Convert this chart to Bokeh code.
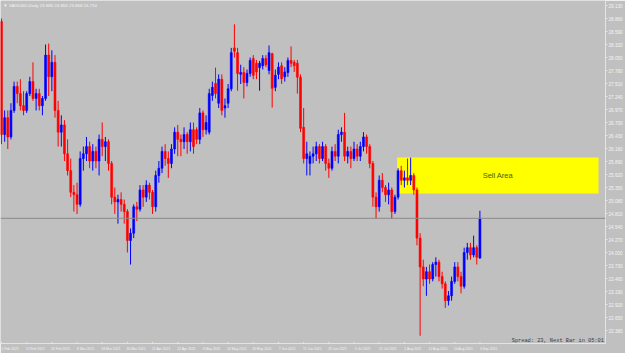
from bokeh.plotting import figure
from bokeh.models import FixedTicker, Span, Label, PrintfTickFormatter, ColumnDataSource
from bokeh.embed import file_html
from bokeh.resources import INLINE
from bokeh.core.properties import value

symbol = "XAGUSD"
timeframe = "Daily"

# bar index of every labelled date on the time axis
date_tick_bars = [0, 8, 16, 24, 32, 40, 48, 56, 64, 72, 80, 88, 96, 104, 112, 120, 128, 136, 144, 152]
date_tick_labels = ["2 Feb 2021", "12 Feb 2021", "24 Feb 2021", "8 Mar 2021", "18 Mar 2021",
                    "30 Mar 2021", "12 Apr 2021", "22 Apr 2021", "4 May 2021", "14 May 2021",
                    "26 May 2021", "7 Jun 2021", "17 Jun 2021", "29 Jun 2021", "9 Jul 2021",
                    "21 Jul 2021", "2 Aug 2021", "12 Aug 2021", "24 Aug 2021", "3 Sep 2021"]

price_ticks = [29.130, 28.860, 28.590, 28.320, 28.050, 27.780, 27.510, 27.240, 26.970, 26.700,
               26.430, 26.160, 25.890, 25.620, 25.350, 25.080, 24.810, 24.540, 24.270, 24.000,
               23.730, 23.460, 23.190, 22.920, 22.650, 22.380]

# daily OHLC, 2 Feb 2021 .. 3 Sep 2021 (153 bars)
opens = [28.80, 26.45, 26.80, 26.40, 26.95, 27.45, 27.30, 27.05, 26.95, 27.30,
         27.55, 27.20, 27.30, 27.05, 27.20, 28.10, 27.65, 27.95, 26.95, 26.50,
         26.65, 26.05, 25.70, 25.25, 25.20, 25.00, 25.95, 26.05, 26.20, 25.90,
         26.10, 25.90, 26.35, 26.20, 26.30, 25.85, 25.15, 25.05, 25.10, 25.00,
         24.85, 24.25, 24.40, 24.95, 24.90, 25.30, 25.15, 25.40, 25.25, 24.95,
         25.60, 25.75, 26.10, 25.95, 25.85, 26.15, 26.50, 26.35, 26.30, 26.45,
         26.30, 26.55, 26.55, 26.35, 26.90, 26.55, 26.50, 27.26, 27.51, 27.10,
         27.60, 27.00, 27.10, 27.40, 28.25, 28.15, 27.70, 27.74, 27.53, 27.72,
         28.03, 27.93, 27.84, 27.88, 28.03, 27.78, 28.13, 27.43, 27.70, 27.88,
         27.65, 27.74, 27.99, 27.95, 27.93, 27.64, 26.60, 25.95, 25.85, 26.00,
         26.05, 26.20, 25.95, 26.20, 25.85, 25.75, 26.10, 26.00, 26.45, 26.50,
         26.00, 26.10, 25.95, 26.15, 26.00, 26.20, 26.40, 26.20, 25.85, 25.15,
         24.95, 25.50, 25.35, 25.20, 25.30, 24.85, 25.15, 25.70, 25.50, 25.55,
         25.50, 25.60, 25.30, 24.30, 23.70, 23.45, 23.60, 23.45, 23.75, 23.80,
         23.50, 23.35, 23.00, 23.10, 23.40, 23.70, 23.50, 23.30, 24.00, 24.10,
         23.95, 24.10, 23.886]
highs = [28.86, 26.95, 26.95, 27.10, 27.55, 27.55, 27.60, 27.35, 27.35, 27.65,
         27.95, 27.40, 27.40, 27.25, 28.32, 28.34, 28.20, 28.10, 27.15, 26.85,
         26.75, 26.35, 25.95, 25.40, 25.45, 26.10, 26.20, 26.40, 26.30, 26.25,
         26.20, 26.45, 26.70, 26.40, 26.35, 25.90, 25.35, 25.20, 25.25, 25.10,
         24.90, 24.50, 25.00, 25.05, 25.40, 25.40, 25.50, 25.45, 25.30, 25.70,
         25.90, 26.20, 26.25, 26.10, 26.25, 26.60, 26.65, 26.45, 26.60, 26.50,
         26.70, 26.70, 26.60, 27.00, 26.95, 26.85, 27.40, 27.55, 27.84, 27.70,
         27.70, 27.20, 27.50, 28.25, 28.74, 28.25, 27.90, 27.85, 27.80, 28.05,
         28.10, 28.00, 27.98, 28.10, 28.10, 28.30, 28.15, 27.80, 27.95, 27.95,
         27.85, 28.05, 28.28, 28.00, 28.00, 27.70, 27.00, 26.30, 26.10, 26.20,
         26.30, 26.25, 26.30, 26.25, 25.95, 26.20, 26.25, 26.55, 26.60, 26.90,
         26.20, 26.20, 26.30, 26.25, 26.30, 26.50, 26.45, 26.25, 25.90, 25.25,
         25.60, 25.65, 25.40, 25.45, 25.35, 25.20, 25.75, 25.80, 25.70, 25.95,
         25.97, 25.65, 25.35, 24.40, 23.85, 23.70, 23.75, 23.80, 23.90, 23.85,
         23.60, 23.40, 23.20, 23.50, 23.80, 23.80, 23.60, 24.10, 24.20, 24.20,
         24.35, 24.15, 24.866]
lows = [26.25, 26.30, 26.15, 26.35, 26.90, 27.10, 26.95, 26.85, 26.90, 27.25,
        27.15, 26.95, 26.95, 26.85, 27.15, 27.25, 27.35, 26.80, 26.20, 26.20,
        25.90, 25.60, 25.15, 24.85, 24.80, 24.95, 25.70, 25.90, 25.75, 25.70,
        25.75, 25.60, 26.00, 25.90, 25.70, 25.00, 24.80, 24.60, 24.85, 24.60,
        24.00, 23.75, 24.30, 24.65, 24.85, 24.95, 25.05, 25.10, 24.80, 24.85,
        25.45, 25.65, 25.80, 25.55, 25.75, 26.05, 26.00, 26.00, 26.15, 26.05,
        26.10, 26.05, 26.25, 26.25, 26.40, 26.45, 26.45, 27.15, 27.20, 27.00,
        26.85, 26.80, 27.00, 27.35, 28.05, 27.36, 27.50, 27.20, 27.45, 27.65,
        27.60, 27.60, 27.36, 27.80, 27.85, 27.70, 27.01, 27.35, 27.60, 27.50,
        27.55, 27.65, 27.85, 27.75, 27.30, 26.50, 25.85, 25.60, 25.60, 25.85,
        25.90, 25.85, 25.90, 25.70, 25.55, 25.70, 25.90, 25.85, 26.30, 25.90,
        25.85, 25.75, 25.90, 25.90, 25.90, 26.10, 26.05, 25.75, 24.95, 24.70,
        24.85, 25.25, 25.05, 25.00, 24.70, 24.80, 25.10, 25.40, 25.35, 25.40,
        25.40, 25.20, 24.15, 22.27, 23.30, 23.10, 23.35, 23.40, 23.50, 23.40,
        23.25, 22.85, 22.90, 23.00, 23.35, 23.40, 23.15, 23.25, 23.85, 23.85,
        23.90, 23.75, 23.868]
closes = [26.45, 26.80, 26.40, 26.95, 27.45, 27.30, 27.05, 26.95, 27.30, 27.55,
          27.20, 27.30, 27.05, 27.20, 28.10, 27.65, 27.95, 26.95, 26.50, 26.65,
          26.05, 25.70, 25.25, 25.20, 25.00, 25.95, 26.05, 26.20, 25.90, 26.10,
          25.90, 26.35, 26.20, 26.30, 25.85, 25.15, 25.05, 25.10, 25.00, 24.85,
          24.25, 24.40, 24.95, 24.90, 25.30, 25.15, 25.40, 25.25, 24.95, 25.60,
          25.75, 26.10, 25.95, 25.85, 26.15, 26.50, 26.35, 26.30, 26.45, 26.30,
          26.55, 26.20, 26.35, 26.90, 26.55, 26.70, 27.30, 27.43, 27.30, 27.60,
          26.95, 27.05, 27.40, 28.15, 28.18, 27.72, 27.74, 27.53, 27.72, 27.99,
          27.68, 27.75, 27.93, 28.03, 27.90, 28.15, 27.41, 27.68, 27.85, 27.61,
          27.75, 27.99, 27.93, 27.88, 27.64, 26.58, 25.95, 26.05, 26.00, 26.05,
          26.20, 25.95, 26.20, 25.85, 25.75, 26.10, 26.00, 26.45, 26.50, 26.00,
          26.10, 25.95, 26.15, 26.00, 26.20, 26.40, 26.20, 25.85, 25.15, 24.95,
          25.50, 25.35, 25.20, 25.30, 24.85, 25.15, 25.70, 25.50, 25.55, 25.50,
          25.60, 25.30, 24.30, 23.70, 23.45, 23.60, 23.45, 23.75, 23.80, 23.50,
          23.35, 23.00, 23.10, 23.40, 23.70, 23.50, 23.30, 24.00, 24.10, 23.95,
          24.10, 23.90, 24.710]

# "Sell Area" rectangle (bar positions and prices)
sell_area_start_bar = 125.7
sell_area_end_bar = 189.7
sell_area_top = 25.973
sell_area_bottom = 25.225
sell_area_label = "Sell Area"

spread_text = "Spread: 23, Next Bar in 05:01"

BG = "#c0c0c0"
FG = "#f4f4f4"
BULL = "#0000ff"
BEAR = "#ff0000"

n = len(closes)
idx = list(range(n))
colors = [BULL if c >= o else BEAR for o, c in zip(opens, closes)]
src = ColumnDataSource(dict(
    x=idx, o=opens, h=highs, l=lows, c=closes,
    top=[max(o, c) for o, c in zip(opens, closes)],
    bot=[min(o, c) for o, c in zip(opens, closes)],
    col=colors))

y_top = 29.234
y_bot = 22.110
x_lo = -0.317
x_hi = 191.9

p = figure(width=625, height=353, x_range=(x_lo, x_hi), y_range=(y_bot, y_top),
           y_axis_location="right", output_backend="svg", toolbar_location=None,
           min_border_left=0, min_border_top=0, min_border_right=18, min_border_bottom=10)
p.background_fill_color = BG
p.border_fill_color = BG
p.outline_line_color = None
p.grid.visible = False

# axes
p.yaxis.ticker = FixedTicker(ticks=price_ticks)
p.yaxis.formatter = PrintfTickFormatter(format="%.3f")

# the terminal writes each date to the right of its bar; labels are centred on
# their tick, so the tick sits half a label further right
label_shift = 2.75
x_ticks = [b + label_shift for b in date_tick_bars]
p.xaxis.ticker = FixedTicker(ticks=x_ticks)
p.xaxis.major_label_overrides = {t: s for t, s in zip(x_ticks, date_tick_labels)}
for ax in (p.xaxis[0], p.yaxis[0]):
    ax.axis_line_color = "#e4e4e4"
    ax.major_tick_line_color = "#e4e4e4"
    ax.major_tick_in = 0
    ax.major_tick_out = 2
    ax.minor_tick_line_color = None
    ax.major_label_text_color = FG
    ax.major_label_text_font = "Liberation Sans"
    ax.major_label_standoff = 1
p.xaxis.major_tick_line_color = None
p.yaxis.major_label_text_font_size = "4.6px"
p.xaxis.major_label_text_font_size = "3.4px"

# sell area
p.quad(left=[sell_area_start_bar], right=[sell_area_end_bar], top=[sell_area_top],
       bottom=[sell_area_bottom], fill_color="#ffff00", line_color=None)
p.text(x=[(sell_area_start_bar + sell_area_end_bar) / 2], y=[(sell_area_top + sell_area_bottom) / 2],
       text=[sell_area_label], text_font=value("Liberation Sans"), text_font_size="7.5px",
       text_color="#2f6a10", text_align="center", text_baseline="middle")

# current price line
p.add_layout(Span(location=closes[-1], dimension="width", line_color="#8a8a8a", line_width=1))

# date tick marks at the bars themselves
p.segment(x0=date_tick_bars, y0=[y_bot] * len(date_tick_bars), x1=date_tick_bars,
          y1=[y_bot + 0.035] * len(date_tick_bars), color="#e4e4e4", line_width=1)

# candles
p.segment(x0="x", y0="l", x1="x", y1="h", color="col", line_width=1, source=src)
p.vbar(x="x", width=0.62, top="top", bottom="bot", fill_color="col", line_color="col",
       line_width=0.6, source=src)

# header text
header = "\u25bc %s,%s  %.3f %.3f %.3f %.3f" % (symbol, timeframe, opens[-1], highs[-1], lows[-1], closes[-1])
p.text(x=[x_lo + 0.9], y=[y_top - 0.10], text=[header], text_font=value("Liberation Sans"),
       text_font_size="4.4px", text_color=FG, text_baseline="middle")

# spread / timer text
p.text(x=[162.1], y=[22.16], text=[spread_text], text_font=value("Liberation Mono"),
       text_font_size="5.3px", text_color="#3a3a3a", text_baseline="middle")

# current price tag on the price axis
p.add_layout(Label(x=x_hi + 0.75, y=closes[-1], text="%.3f" % closes[-1], text_font_size="4.6px",
                   text_color="#606060", text_baseline="middle", background_fill_color="#ffffff",
                   text_font="Liberation Sans"))

open("out.html", "w").write(file_html(p, INLINE))
